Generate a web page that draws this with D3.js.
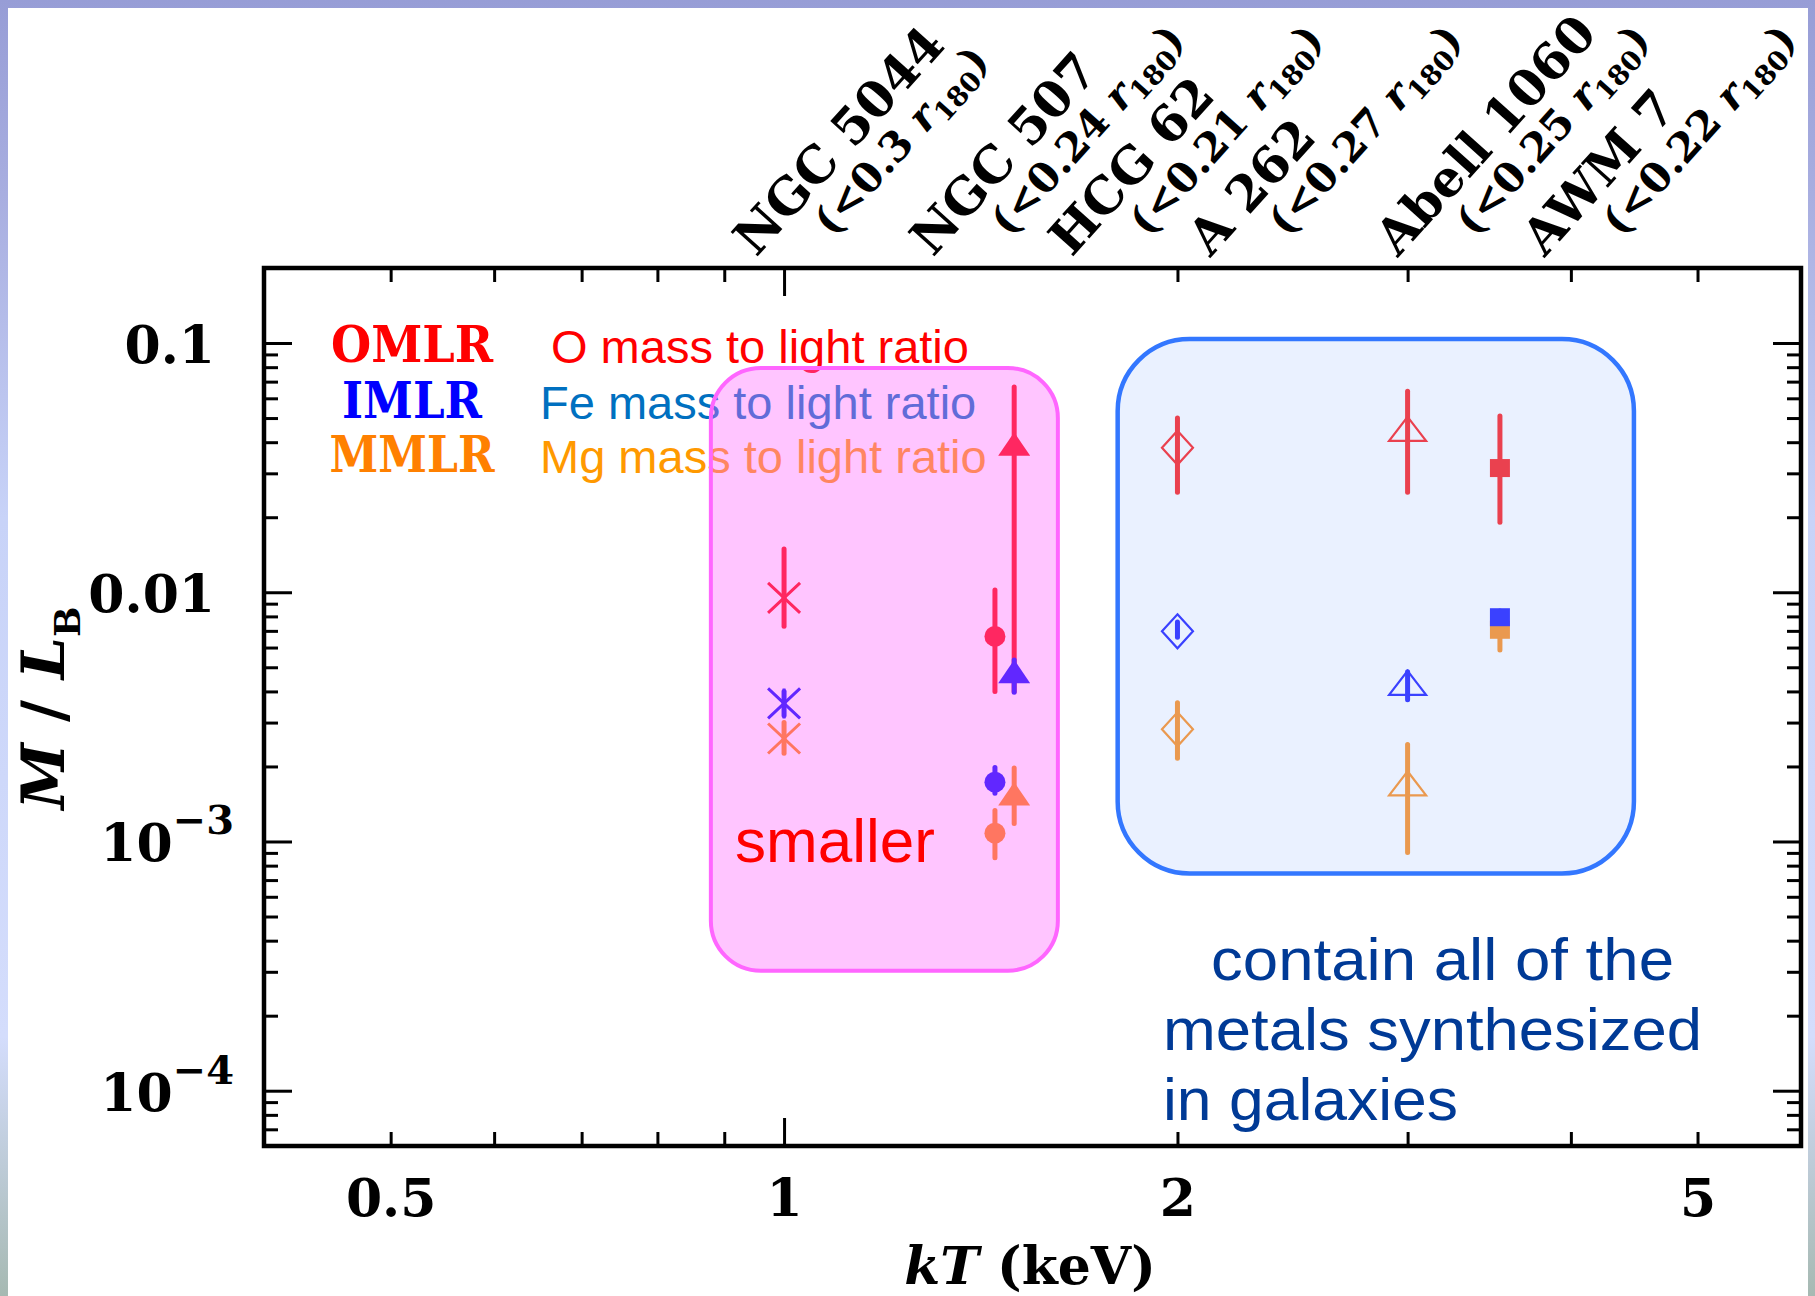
<!DOCTYPE html>
<html>
<head>
<meta charset="utf-8">
<script src="https://cdn.jsdelivr.net/npm/d3@7"></script>
<style>
  html, body { margin: 0; padding: 0; background: #fff; }
  body { width: 1815px; height: 1296px; overflow: hidden; }
  .serif { font-family: "DejaVu Serif", serif; font-weight: bold; }
  .sans { font-family: "Liberation Sans", Arial, sans-serif; }
</style>
</head>
<body>
<script>
// systems along the top, their kT and extraction radius
var systems = ["NGC 5044", "NGC 507", "HCG 62", "A 262", "Abell 1060", "AWM 7"];
var radii = ["0.3", "0.24", "0.21", "0.27", "0.25", "0.22"];
var kT = [1.0, 1.45, 1.5, 2.0, 3.0, 3.53];
var labelKT = [0.952, 1.30, 1.66, 2.12, 2.95, 3.82];
var symbols = ["asterisk", "circle", "triangle", "diamond", "triangleOpen", "square"];

// mass to light ratios: [value, low, high]
var omlr = [[0.0095, 0.0073, 0.0149], [0.00665, 0.0040, 0.0102], [0.038, 0.0040, 0.0666],
            [0.038, 0.0252, 0.050], [0.0436, 0.0252, 0.064], [0.0315, 0.0191, 0.0509]];
var mmlr = [[0.00259, 0.00226, 0.0030], [0.00108, 0.00086, 0.00133], [0.0015, 0.00118, 0.00197],
            [0.00282, 0.00216, 0.0036], [0.00165, 0.000904, 0.00245], [0.00707, 0.00586, 0.0075]];
var imlr = [[0.00358, 0.0032, 0.0040], [0.00173, 0.00156, 0.00198], [0.00465, 0.00397, 0.00535],
            [0.00697, 0.0066, 0.0076], [0.00417, 0.0037, 0.0048], [0.00794, 0.0075, 0.0084]];

var legendNames = ["OMLR", "IMLR", "MMLR"];
var legendNotes = ["O mass to light ratio", "Fe mass to light ratio", "Mg mass to light ratio"];
var xTickLabels = [0.5, 1, 2, 5];
var yTickValues = [0.1, 0.01, 0.001, 0.0001];
var yTickLabels = [["0.1"], ["0.01"], ["10", "\u22123"], ["10", "\u22124"]];

var red = "#ff0000", blue = "#0000ff", orange = "#ff8000";

var svg = d3.select("body").append("svg")
    .attr("width", 1815)
    .attr("height", 1296);

// slide background
var grad = svg.append("defs").append("linearGradient")
    .attr("id", "bg").attr("x1", 0).attr("y1", 0).attr("x2", 0).attr("y2", 1);
[[0, "#979dd6"], [0.15, "#a8aee0"], [0.4, "#c8d3f8"], [0.8, "#d4ddfc"], [1, "#a6b9b2"]].forEach(s => {
    grad.append("stop").attr("offset", s[0]).attr("stop-color", s[1]);
});
svg.append("rect").attr("width", 1815).attr("height", 1296).attr("fill", "url(#bg)");
svg.append("rect").attr("x", 8).attr("y", 8).attr("width", 1800).attr("height", 1288).attr("fill", "#fff");

var x = d3.scaleLog().domain([0.4, 6]).range([264, 1801]);
var y = d3.scaleLog().domain([6e-5, 0.2]).range([1146, 268]);

// legend notes (under the pink box)
var noteColors = ["#ff0000", "#0070c0", "#ff9900"];
var noteX = [551, 540, 540];
var rowY = [363, 419, 473];
legendNotes.forEach((t, i) => {
    svg.append("text").attr("class", "sans")
        .attr("x", noteX[i]).attr("y", rowY[i])
        .attr("font-size", 47)
        .attr("fill", noteColors[i])
        .text(t);
});
var nameWidths = [162, 140, 165];
legendNames.forEach((t, i) => {
    svg.append("text").attr("class", "serif")
        .attr("x", 412).attr("y", rowY[i] - 1)
        .attr("text-anchor", "middle")
        .attr("font-size", 50)
        .attr("textLength", nameWidths[i])
        .attr("lengthAdjust", "spacingAndGlyphs")
        .attr("fill", [red, blue, orange][i])
        .text(t);
});

// marker shapes
function marker(g, type, color) {
    if (type == "asterisk") {
        g.append("path").attr("d", "M0,-15V15M-16,-15L16,15M-16,15L16,-15")
            .attr("stroke", color).attr("stroke-width", 3).attr("fill", "none");
    } else if (type == "circle") {
        g.append("circle").attr("r", 10.5).attr("fill", color);
    } else if (type == "triangle") {
        g.append("path").attr("d", "M0,-15.5L16,8L-16,8Z").attr("fill", color);
    } else if (type == "diamond") {
        g.append("path").attr("d", "M0,-17L15.5,0L0,17L-15.5,0Z")
            .attr("stroke", color).attr("stroke-width", 2.2).attr("fill", "none");
    } else if (type == "triangleOpen") {
        g.append("path").attr("d", "M0,-16L18.5,8L-18.5,8Z")
            .attr("stroke", color).attr("stroke-width", 2.2).attr("fill", "none");
    } else if (type == "square") {
        g.append("rect").attr("x", -10).attr("y", -9).attr("width", 20).attr("height", 18).attr("fill", color);
    }
}

function drawSeries(vals, color) {
    var g = svg.append("g");
    vals.forEach((v, i) => {
        g.append("line")
            .attr("x1", x(kT[i])).attr("x2", x(kT[i]))
            .attr("y1", y(v[1])).attr("y2", y(v[2]))
            .attr("stroke", color).attr("stroke-width", 5)
            .attr("stroke-linecap", "round");
        var m = g.append("g").attr("transform", `translate(${x(kT[i])},${y(v[0])})`);
        marker(m, symbols[i], color);
    });
}
drawSeries(omlr, red);
drawSeries(mmlr, orange);
drawSeries(imlr, blue);

// highlight boxes
var pinkBox = [0.879, 1.62, 3.03e-4, 0.0794];
var blueBox = [1.80, 4.47, 7.44e-4, 0.1037];
svg.append("rect")
    .attr("x", x(pinkBox[0])).attr("y", y(pinkBox[3]))
    .attr("width", x(pinkBox[1]) - x(pinkBox[0]))
    .attr("height", y(pinkBox[2]) - y(pinkBox[3]))
    .attr("rx", 50)
    .attr("fill", "#ff66ff").attr("fill-opacity", 0.38)
    .attr("stroke", "#ff66ff").attr("stroke-width", 4);
svg.append("rect")
    .attr("x", x(blueBox[0])).attr("y", y(blueBox[3]))
    .attr("width", x(blueBox[1]) - x(blueBox[0]))
    .attr("height", y(blueBox[2]) - y(blueBox[3]))
    .attr("rx", 72)
    .attr("fill", "rgb(186,209,255)").attr("fill-opacity", 0.31)
    .attr("stroke", "#3377ff").attr("stroke-width", 4.5);

svg.append("text").attr("class", "sans")
    .attr("x", 735).attr("y", 862)
    .attr("font-size", 62).attr("fill", red)
    .text("smaller");

var noteLines = ["contain all of the", "metals synthesized", "in galaxies"];
var noteLineX = [1211, 1163, 1163];
var noteLineW = [463, 539, 295];
noteLines.forEach((t, i) => {
    svg.append("text").attr("class", "sans")
        .attr("x", noteLineX[i]).attr("y", 980 + i * 70)
        .attr("font-size", 60)
        .attr("textLength", noteLineW[i])
        .attr("lengthAdjust", "spacingAndGlyphs")
        .attr("fill", "#003a96")
        .text(t);
});

// axes: ticks point inward, major only at decades
var xt = x.ticks(), yt = y.ticks();
var isMajor = d => Math.abs(Math.log10(d) - Math.round(Math.log10(d))) < 1e-6;
function ticks(axis, scale, vals, len, tr) {
    svg.append("g").attr("transform", tr)
        .call(axis(scale).tickValues(vals).tickSize(-len).tickFormat(""))
        .call(g => g.select(".domain").remove())
        .call(g => g.selectAll("line").attr("stroke", "#000").attr("stroke-width", 3));
}
ticks(d3.axisBottom, x, xt.filter(d => !isMajor(d)), 14, "translate(0,1146)");
ticks(d3.axisBottom, x, xt.filter(isMajor), 28, "translate(0,1146)");
ticks(d3.axisTop, x, xt.filter(d => !isMajor(d)), 14, "translate(0,268)");
ticks(d3.axisTop, x, xt.filter(isMajor), 28, "translate(0,268)");
ticks(d3.axisLeft, y, yt.filter(d => !isMajor(d)), 14, "translate(264,0)");
ticks(d3.axisLeft, y, yt.filter(isMajor), 28, "translate(264,0)");
ticks(d3.axisRight, y, yt.filter(d => !isMajor(d)), 14, "translate(1801,0)");
ticks(d3.axisRight, y, yt.filter(isMajor), 28, "translate(1801,0)");

svg.append("rect")
    .attr("x", 264).attr("y", 268)
    .attr("width", 1801 - 264).attr("height", 1146 - 268)
    .attr("fill", "none").attr("stroke", "#000").attr("stroke-width", 4.5);

// x tick labels
svg.append("g").attr("transform", "translate(0,1146)")
    .call(d3.axisBottom(x).tickValues(xTickLabels).tickSize(0).tickFormat(d => d))
    .call(g => g.select(".domain").remove())
    .call(g => g.selectAll("text")
        .attr("class", "serif").attr("font-size", 52)
        .attr("fill", "#000").attr("y", 70).attr("dy", null));

// y tick labels
yTickValues.forEach((v, i) => {
    var lab = yTickLabels[i];
    var t = svg.append("text").attr("class", "serif")
        .attr("x", lab.length > 1 ? 234 : 215)
        .attr("y", y(v) + 20)
        .attr("text-anchor", "end")
        .attr("font-size", 52);
    t.append("tspan").text(lab[0]);
    if (lab.length > 1) {
        t.append("tspan").attr("font-size", 40).attr("dy", -27).text(lab[1]);
    }
});

// axis titles
var xt2 = svg.append("text").attr("class", "serif")
    .attr("x", 1030).attr("y", 1284)
    .attr("text-anchor", "middle").attr("font-size", 52);
xt2.append("tspan").attr("font-style", "italic").text("kT");
xt2.append("tspan").text(" (keV)");

var yt2 = svg.append("text").attr("class", "serif")
    .attr("transform", "translate(64,708) rotate(-90)")
    .attr("text-anchor", "middle").attr("font-size", 60);
yt2.append("tspan").attr("font-style", "italic").text("M");
yt2.append("tspan").text(" / ");
yt2.append("tspan").attr("font-style", "italic").text("L");
yt2.append("tspan").attr("font-size", 36).attr("dy", 16).text("B");

// system names along the top
systems.forEach((name, i) => {
    var g = svg.append("g")
        .attr("transform", `translate(${x(labelKT[i])},258) rotate(-48)`);
    g.append("text").attr("class", "serif")
        .attr("font-size", 50)
        .text(name);
    var t = g.append("text").attr("class", "serif")
        .attr("x", 66).attr("y", 43)
        .attr("font-size", 41);
    t.append("tspan").text("(<" + radii[i] + " ");
    t.append("tspan").attr("font-style", "italic").text("r");
    t.append("tspan").attr("font-size", 27).attr("dy", 8).text("180");
    t.append("tspan").attr("dy", -8).text(")");
});
</script>
</body>
</html>
